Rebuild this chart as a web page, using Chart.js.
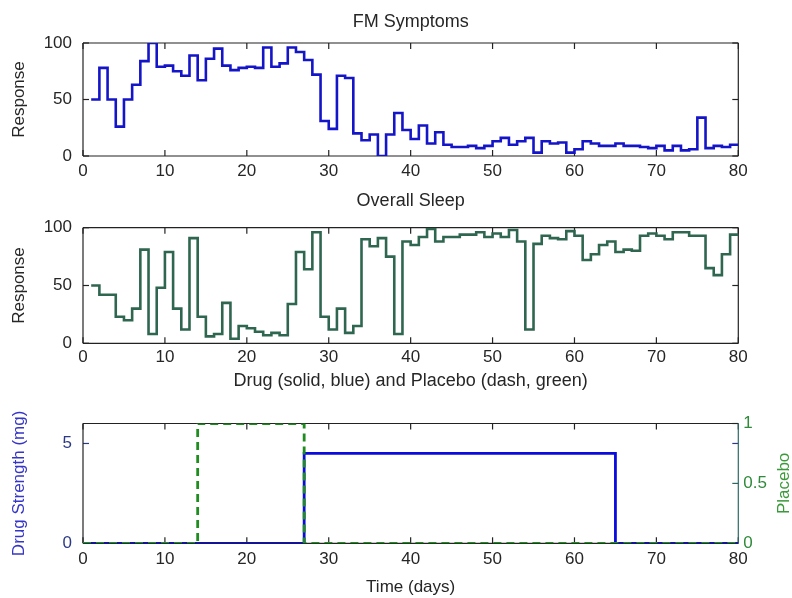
<!DOCTYPE html>
<html>
<head>
<meta charset="utf-8">
<title>FM Symptoms, Overall Sleep and Drug / Placebo</title>
<script src="https://cdn.jsdelivr.net/npm/chart.js@4.4.1/dist/chart.umd.min.js"></script>
<style>
  html, body { margin: 0; padding: 0; background: #fff; width: 792px; height: 598px; overflow: hidden; }
  canvas { position: absolute; left: 0; display: block; }
  #fm { top: 0; }
  #sleep { top: 185px; }
  #drug { top: 370px; }
</style>
</head>
<body>
<canvas id="fm" width="792" height="185"></canvas>
<canvas id="sleep" width="792" height="185"></canvas>
<canvas id="drug" width="792" height="228"></canvas>
<script>
// ---- daily diary, days 1..80 ----
const days = [
  1, 2, 3, 4, 5, 6, 7, 8, 9, 10, 11, 12, 13, 14, 15, 16, 17, 18, 19, 20,
  21, 22, 23, 24, 25, 26, 27, 28, 29, 30, 31, 32, 33, 34, 35, 36, 37, 38, 39, 40,
  41, 42, 43, 44, 45, 46, 47, 48, 49, 50, 51, 52, 53, 54, 55, 56, 57, 58, 59, 60,
  61, 62, 63, 64, 65, 66, 67, 68, 69, 70, 71, 72, 73, 74, 75, 76, 77, 78, 79, 80
];

const fmSymptoms = [
  50, 78, 50, 26, 50, 63, 84, 100, 79, 80, 75, 71, 89, 67, 86, 95, 80, 76, 78, 79,
  78, 96, 79, 82, 96, 92, 85, 72, 31, 24, 71, 69, 20, 14, 19, 0, 19, 38, 23, 15,
  27, 11, 21, 10, 8, 8, 9, 7, 9, 13, 16, 10, 13, 16, 3, 13, 11, 12, 3, 6,
  13, 11, 9, 9, 11, 9, 9, 8, 7, 9, 5, 9, 5, 6, 34, 7, 9, 8, 10, 10
];

const overallSleep = [
  50, 42, 42, 23, 20, 30, 81, 8, 48, 79, 30, 12, 91, 23, 6, 8, 35, 4, 15, 13,
  10, 7, 9, 7, 34, 79, 64, 96, 23, 12, 30, 9, 15, 90, 84, 91, 75, 8, 88, 85,
  92, 99, 88, 92, 92, 94, 94, 96, 92, 95, 92, 98, 88, 12, 86, 93, 91, 90, 97, 93,
  72, 77, 85, 88, 79, 81, 80, 93, 95, 93, 90, 96, 96, 93, 93, 65, 59, 77, 94, 94
];

// ---- treatment schedule (change points) ----
const drugDay = [0, 27, 65, 80];
const drugMg = [0, 4.5, 0, 0];
const placeboDay = [0, 14, 27, 80];
const placeboOn = [0, 1, 0, 0];

// ---- tick values ----
const dayTicks = [0, 10, 20, 30, 40, 50, 60, 70, 80];
const responseTicks = [0, 50, 100];
const drugTicks = [0, 5];
const placeboTicks = [0, 0.5, 1];

const FONT = "'Liberation Sans', Arial, Helvetica, sans-serif";
const TEXT = '#262626';
Chart.defaults.font.family = FONT;
Chart.defaults.font.size = 17;
Chart.defaults.color = TEXT;
Chart.defaults.animation = false;
Chart.defaults.responsive = false;
Chart.defaults.plugins.legend.display = false;
Chart.defaults.plugins.tooltip.enabled = false;
Chart.defaults.elements.point.radius = 0;

const PLOT_LEFT = 83;
const PLOT_RIGHT_GAP = 53.7;
const TITLE_FONT = { size: 18, weight: 'normal' };

function points(xs, ys) {
  return xs.map((x, i) => ({ x: x, y: ys[i] }));
}
function fixedTicks(values) {
  return scale => { scale.ticks = values.map(v => ({ value: v })); };
}
const plainLabel = v => String(v);
const noGrid = { display: false, drawTicks: false, drawOnChartArea: false };

// Boxed axes with inward tick marks on all four sides
const frame = {
  id: 'frame',
  beforeDatasetsDraw(chart, _args, opts) {
    const { ctx, chartArea: a } = chart;
    const len = 6;
    ctx.save();
    ctx.lineWidth = 1.2;
    const seg = (x1, y1, x2, y2, c) => {
      ctx.strokeStyle = c;
      ctx.beginPath();
      ctx.moveTo(x1, y1);
      ctx.lineTo(x2, y2);
      ctx.stroke();
    };
    const xs = chart.scales.x;
    xs.ticks.forEach(t => {
      const px = xs.getPixelForValue(t.value);
      seg(px, a.bottom, px, a.bottom - len, '#222');
      seg(px, a.top, px, a.top + len, '#222');
    });
    (opts.yAxes || []).forEach(spec => {
      const s = chart.scales[spec.id];
      s.ticks.forEach(t => {
        const py = s.getPixelForValue(t.value);
        if (spec.left) seg(a.left, py, a.left + len, py, spec.color);
        if (spec.right) seg(a.right, py, a.right - len, py, spec.color);
      });
    });
    seg(a.left, a.top, a.right, a.top, '#222');
    seg(a.left, a.bottom, a.right, a.bottom, '#222');
    seg(a.left, a.top, a.left, a.bottom, opts.leftColor || '#222');
    seg(a.right, a.top, a.right, a.bottom, opts.rightColor || '#222');
    ctx.restore();
  }
};

// Rotated label for the right-hand axis (reads bottom to top)
const rightTitle = {
  id: 'rightTitle',
  afterDraw(chart, _args, opts) {
    if (!opts.text) return;
    const { ctx, chartArea: a } = chart;
    ctx.save();
    ctx.font = '17px ' + FONT;
    ctx.fillStyle = opts.color;
    ctx.textAlign = 'center';
    ctx.textBaseline = 'middle';
    ctx.translate(opts.x, (a.top + a.bottom) / 2);
    ctx.rotate(-Math.PI / 2);
    ctx.fillText(opts.text, 0, 0);
    ctx.restore();
  }
};

function dayAxis(height, labelPad, title) {
  return {
    type: 'linear', min: 0, max: 80,
    afterBuildTicks: fixedTicks(dayTicks),
    afterFit: s => { s.height = height; },
    grid: noGrid,
    border: { display: false },
    ticks: { padding: labelPad, maxRotation: 0, autoSkip: false, callback: plainLabel },
    title: title
      ? { display: true, text: title, color: TEXT, font: { size: 17 }, padding: { top: 0, bottom: 0 } }
      : { display: false }
  };
}

function responseAxis() {
  return {
    min: 0, max: 100,
    afterBuildTicks: fixedTicks(responseTicks),
    afterFit: s => { s.width = PLOT_LEFT; },
    grid: noGrid,
    border: { display: false },
    ticks: { padding: 11, callback: plainLabel },
    title: { display: true, text: 'Response', color: TEXT, font: { size: 17 }, padding: { top: 9.3, bottom: 0 } }
  };
}

function panelTitle(text, top, bottom) {
  return { display: true, fullSize: false, text: text, color: TEXT, font: TITLE_FONT, padding: { top: top, bottom: bottom } };
}

// FM Symptoms
new Chart(document.getElementById('fm'), {
  type: 'line',
  data: {
    datasets: [{
      data: points(days, fmSymptoms),
      stepped: 'before',
      borderColor: '#1414c8',
      borderWidth: 2.6
    }]
  },
  options: {
    layout: { padding: { left: 0, right: PLOT_RIGHT_GAP, top: 0, bottom: 0 } },
    scales: { x: dayAxis(29, 4.8), y: responseAxis() },
    plugins: {
      title: panelTitle('FM Symptoms', 11.7, 9.7),
      frame: { yAxes: [{ id: 'y', left: true, right: true, color: '#222' }] }
    }
  },
  plugins: [frame]
});

// Overall Sleep
new Chart(document.getElementById('sleep'), {
  type: 'line',
  data: {
    datasets: [{
      data: points(days, overallSleep),
      stepped: 'before',
      borderColor: '#2f6650',
      borderWidth: 2.6
    }]
  },
  options: {
    layout: { padding: { left: 0, right: PLOT_RIGHT_GAP, top: 0, bottom: 0 } },
    scales: { x: dayAxis(26.7, 4), y: responseAxis() },
    plugins: {
      title: panelTitle('Overall Sleep', 5.2, 15.9),
      frame: { yAxes: [{ id: 'y', left: true, right: true, color: '#222' }] }
    }
  },
  plugins: [frame]
});

// Drug strength and placebo schedule
new Chart(document.getElementById('drug'), {
  type: 'line',
  data: {
    datasets: [
      {
        label: 'Placebo',
        data: points(placeboDay, placeboOn),
        stepped: 'before',
        borderColor: '#1e8c1e',
        borderWidth: 2.8,
        borderDash: [8, 5],
        yAxisID: 'y2',
        order: 0
      },
      {
        label: 'Drug',
        data: points(drugDay, drugMg),
        stepped: 'before',
        borderColor: '#0b0bdc',
        borderWidth: 2.8,
        yAxisID: 'y',
        order: 1
      }
    ]
  },
  options: {
    layout: { padding: 0 },
    scales: {
      x: dayAxis(54.7, 6, 'Time (days)'),
      y: {
        position: 'left', min: 0, max: 6,
        afterBuildTicks: fixedTicks(drugTicks),
        afterFit: s => { s.width = PLOT_LEFT; },
        grid: noGrid,
        border: { display: false },
        ticks: { padding: 11, color: '#2c3a85', callback: plainLabel },
        title: { display: true, text: 'Drug Strength (mg)', color: '#3535c8', font: { size: 17 }, padding: { top: 9.3, bottom: 0 } }
      },
      y2: {
        position: 'right', min: 0, max: 1,
        afterBuildTicks: fixedTicks(placeboTicks),
        afterFit: s => { s.width = PLOT_RIGHT_GAP; },
        grid: noGrid,
        border: { display: false },
        ticks: { padding: 5, color: '#2f8a3a', callback: plainLabel },
        title: { display: false }
      }
    },
    plugins: {
      title: panelTitle('Drug (solid, blue) and Placebo (dash, green)', 0.2, 31.7),
      frame: {
        yAxes: [
          { id: 'y', left: true, right: true, color: '#2c3a85' },
          { id: 'y2', left: false, right: true, color: '#2a6a66' }
        ],
        leftColor: '#222',
        rightColor: '#2a6a66'
      },
      rightTitle: { text: 'Placebo', x: 784, color: '#3a9a3a' }
    }
  },
  plugins: [frame, rightTitle]
});
</script>
</body>
</html>
